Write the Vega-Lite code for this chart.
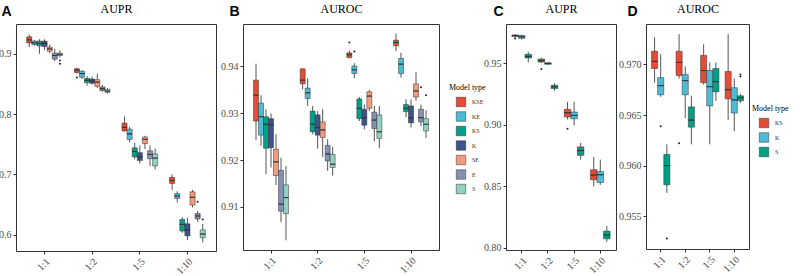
{
  "$schema": "https://vega.github.io/schema/vega-lite/v6.json",
  "background": "white",
  "padding": {"left": -2, "top": 1, "right": 0, "bottom": 0},
  "spacing": -4,
  "datasets": {
    "boxA": [
      {"ratio": "1:1", "model": "KSE", "lo": 0.911, "q1": 0.918, "med": 0.923, "q3": 0.928, "hi": 0.932},
      {"ratio": "1:1", "model": "KE", "lo": 0.913, "q1": 0.915, "med": 0.918, "q3": 0.921, "hi": 0.923},
      {"ratio": "1:1", "model": "KS", "lo": 0.900, "q1": 0.913, "med": 0.917, "q3": 0.921, "hi": 0.924},
      {"ratio": "1:1", "model": "K", "lo": 0.906, "q1": 0.912, "med": 0.917, "q3": 0.921, "hi": 0.924},
      {"ratio": "1:1", "model": "SE", "lo": 0.901, "q1": 0.904, "med": 0.908, "q3": 0.911, "hi": 0.915},
      {"ratio": "1:1", "model": "E", "lo": 0.888, "q1": 0.891, "med": 0.897, "q3": 0.901, "hi": 0.908},
      {"ratio": "1:1", "model": "S", "lo": 0.894, "q1": 0.897, "med": 0.899, "q3": 0.901, "hi": 0.906},
      {"ratio": "1:2", "model": "KSE", "lo": 0.867, "q1": 0.869, "med": 0.873, "q3": 0.875, "hi": 0.877},
      {"ratio": "1:2", "model": "KE", "lo": 0.858, "q1": 0.861, "med": 0.867, "q3": 0.871, "hi": 0.873},
      {"ratio": "1:2", "model": "KS", "lo": 0.847, "q1": 0.852, "med": 0.856, "q3": 0.859, "hi": 0.863},
      {"ratio": "1:2", "model": "K", "lo": 0.849, "q1": 0.851, "med": 0.855, "q3": 0.858, "hi": 0.862},
      {"ratio": "1:2", "model": "SE", "lo": 0.843, "q1": 0.846, "med": 0.853, "q3": 0.857, "hi": 0.867},
      {"ratio": "1:2", "model": "E", "lo": 0.837, "q1": 0.839, "med": 0.842, "q3": 0.845, "hi": 0.848},
      {"ratio": "1:2", "model": "S", "lo": 0.834, "q1": 0.836, "med": 0.838, "q3": 0.841, "hi": 0.843},
      {"ratio": "1:5", "model": "KSE", "lo": 0.771, "q1": 0.772, "med": 0.778, "q3": 0.785, "hi": 0.796},
      {"ratio": "1:5", "model": "KE", "lo": 0.753, "q1": 0.758, "med": 0.767, "q3": 0.775, "hi": 0.779},
      {"ratio": "1:5", "model": "KS", "lo": 0.725, "q1": 0.729, "med": 0.738, "q3": 0.744, "hi": 0.752},
      {"ratio": "1:5", "model": "K", "lo": 0.718, "q1": 0.723, "med": 0.729, "q3": 0.736, "hi": 0.748},
      {"ratio": "1:5", "model": "SE", "lo": 0.742, "q1": 0.751, "med": 0.758, "q3": 0.762, "hi": 0.764},
      {"ratio": "1:5", "model": "E", "lo": 0.714, "q1": 0.726, "med": 0.733, "q3": 0.739, "hi": 0.748},
      {"ratio": "1:5", "model": "S", "lo": 0.708, "q1": 0.714, "med": 0.727, "q3": 0.734, "hi": 0.743},
      {"ratio": "1:10", "model": "KSE", "lo": 0.674, "q1": 0.685, "med": 0.690, "q3": 0.695, "hi": 0.700},
      {"ratio": "1:10", "model": "KE", "lo": 0.653, "q1": 0.660, "med": 0.664, "q3": 0.668, "hi": 0.672},
      {"ratio": "1:10", "model": "KS", "lo": 0.603, "q1": 0.606, "med": 0.617, "q3": 0.625, "hi": 0.629},
      {"ratio": "1:10", "model": "K", "lo": 0.591, "q1": 0.598, "med": 0.608, "q3": 0.618, "hi": 0.628},
      {"ratio": "1:10", "model": "SE", "lo": 0.645, "q1": 0.649, "med": 0.662, "q3": 0.671, "hi": 0.674},
      {"ratio": "1:10", "model": "E", "lo": 0.621, "q1": 0.626, "med": 0.631, "q3": 0.635, "hi": 0.639},
      {"ratio": "1:10", "model": "S", "lo": 0.587, "q1": 0.595, "med": 0.601, "q3": 0.608, "hi": 0.618}
    ],
    "outA": [
      {"ratio": "1:1", "model": "S", "value": 0.8889},
      {"ratio": "1:1", "model": "S", "value": 0.8833},
      {"ratio": "1:2", "model": "KSE", "value": 0.8606},
      {"ratio": "1:10", "model": "E", "value": 0.6545},
      {"ratio": "1:10", "model": "S", "value": 0.625}
    ],
    "boxB": [
      {"ratio": "1:1", "model": "KSE", "lo": 0.9242, "q1": 0.9283, "med": 0.9338, "q3": 0.9370, "hi": 0.9405},
      {"ratio": "1:1", "model": "KE", "lo": 0.9230, "q1": 0.9253, "med": 0.9292, "q3": 0.9321, "hi": 0.9338},
      {"ratio": "1:1", "model": "KS", "lo": 0.9170, "q1": 0.9225, "med": 0.9276, "q3": 0.9292, "hi": 0.9308},
      {"ratio": "1:1", "model": "K", "lo": 0.9184, "q1": 0.9226, "med": 0.9275, "q3": 0.9288, "hi": 0.9299},
      {"ratio": "1:1", "model": "SE", "lo": 0.9147, "q1": 0.9167, "med": 0.9196, "q3": 0.9223, "hi": 0.9255},
      {"ratio": "1:1", "model": "E", "lo": 0.9068, "q1": 0.9091, "med": 0.9106, "q3": 0.9178, "hi": 0.9205},
      {"ratio": "1:1", "model": "S", "lo": 0.9029, "q1": 0.9086, "med": 0.9120, "q3": 0.9147, "hi": 0.9187},
      {"ratio": "1:2", "model": "KSE", "lo": 0.9350, "q1": 0.9362, "med": 0.9370, "q3": 0.9394, "hi": 0.9395},
      {"ratio": "1:2", "model": "KE", "lo": 0.9315, "q1": 0.9331, "med": 0.9343, "q3": 0.9353, "hi": 0.9374},
      {"ratio": "1:2", "model": "KS", "lo": 0.9255, "q1": 0.9260, "med": 0.9276, "q3": 0.9304, "hi": 0.9315},
      {"ratio": "1:2", "model": "K", "lo": 0.9224, "q1": 0.9253, "med": 0.9269, "q3": 0.9296, "hi": 0.9304},
      {"ratio": "1:2", "model": "SE", "lo": 0.9206, "q1": 0.9248, "med": 0.9264, "q3": 0.9281, "hi": 0.9308},
      {"ratio": "1:2", "model": "E", "lo": 0.9177, "q1": 0.9198, "med": 0.9213, "q3": 0.9231, "hi": 0.9244},
      {"ratio": "1:2", "model": "S", "lo": 0.9167, "q1": 0.9184, "med": 0.9191, "q3": 0.9212, "hi": 0.9228},
      {"ratio": "1:5", "model": "KSE", "lo": 0.9416, "q1": 0.9418, "med": 0.9424, "q3": 0.9428, "hi": 0.9433},
      {"ratio": "1:5", "model": "KE", "lo": 0.9374, "q1": 0.9384, "med": 0.9392, "q3": 0.9400, "hi": 0.9406},
      {"ratio": "1:5", "model": "KS", "lo": 0.9283, "q1": 0.9288, "med": 0.9310, "q3": 0.9330, "hi": 0.9334},
      {"ratio": "1:5", "model": "K", "lo": 0.9265, "q1": 0.9274, "med": 0.9290, "q3": 0.9308, "hi": 0.9318},
      {"ratio": "1:5", "model": "SE", "lo": 0.9304, "q1": 0.9310, "med": 0.9336, "q3": 0.9345, "hi": 0.9349},
      {"ratio": "1:5", "model": "E", "lo": 0.9240, "q1": 0.9267, "med": 0.9285, "q3": 0.9302, "hi": 0.9315},
      {"ratio": "1:5", "model": "S", "lo": 0.9225, "q1": 0.9246, "med": 0.9260, "q3": 0.9296, "hi": 0.9315},
      {"ratio": "1:10", "model": "KSE", "lo": 0.9432, "q1": 0.9443, "med": 0.9450, "q3": 0.9455, "hi": 0.9469},
      {"ratio": "1:10", "model": "KE", "lo": 0.9375, "q1": 0.9384, "med": 0.9404, "q3": 0.9416, "hi": 0.9428},
      {"ratio": "1:10", "model": "KS", "lo": 0.9291, "q1": 0.9303, "med": 0.9310, "q3": 0.9318, "hi": 0.9329},
      {"ratio": "1:10", "model": "K", "lo": 0.9269, "q1": 0.9279, "med": 0.9290, "q3": 0.9315, "hi": 0.9329},
      {"ratio": "1:10", "model": "SE", "lo": 0.9326, "q1": 0.9334, "med": 0.9347, "q3": 0.9362, "hi": 0.9387},
      {"ratio": "1:10", "model": "E", "lo": 0.9272, "q1": 0.9281, "med": 0.9290, "q3": 0.9308, "hi": 0.9318},
      {"ratio": "1:10", "model": "S", "lo": 0.9247, "q1": 0.9262, "med": 0.9276, "q3": 0.9288, "hi": 0.9306}
    ],
    "outB": [
      {"ratio": "1:5", "model": "KSE", "value": 0.9450},
      {"ratio": "1:5", "model": "KE", "value": 0.9431},
      {"ratio": "1:10", "model": "E", "value": 0.9355},
      {"ratio": "1:10", "model": "S", "value": 0.9338}
    ],
    "boxC": [
      {"ratio": "1:1", "model": "KS", "lo": 0.9710, "q1": 0.9719, "med": 0.9727, "q3": 0.9732, "hi": 0.9738},
      {"ratio": "1:1", "model": "K", "lo": 0.9694, "q1": 0.9705, "med": 0.9716, "q3": 0.9727, "hi": 0.9735},
      {"ratio": "1:1", "model": "S", "lo": 0.9508, "q1": 0.9544, "med": 0.9557, "q3": 0.9574, "hi": 0.9596},
      {"ratio": "1:2", "model": "KS", "lo": 0.9503, "q1": 0.9511, "med": 0.9522, "q3": 0.9536, "hi": 0.9546},
      {"ratio": "1:2", "model": "K", "lo": 0.9490, "q1": 0.9492, "med": 0.9500, "q3": 0.9505, "hi": 0.9508},
      {"ratio": "1:2", "model": "S", "lo": 0.9276, "q1": 0.9295, "med": 0.9309, "q3": 0.9322, "hi": 0.9339},
      {"ratio": "1:5", "model": "KS", "lo": 0.9044, "q1": 0.9063, "med": 0.9098, "q3": 0.9126, "hi": 0.9186},
      {"ratio": "1:5", "model": "K", "lo": 0.8995, "q1": 0.9049, "med": 0.9076, "q3": 0.9104, "hi": 0.9186},
      {"ratio": "1:5", "model": "S", "lo": 0.8716, "q1": 0.8751, "med": 0.8790, "q3": 0.8820, "hi": 0.8852},
      {"ratio": "1:10", "model": "KS", "lo": 0.8497, "q1": 0.8552, "med": 0.8590, "q3": 0.8634, "hi": 0.8738},
      {"ratio": "1:10", "model": "K", "lo": 0.8511, "q1": 0.8530, "med": 0.8593, "q3": 0.8620, "hi": 0.8716},
      {"ratio": "1:10", "model": "S", "lo": 0.8046, "q1": 0.8071, "med": 0.8101, "q3": 0.8134, "hi": 0.8175}
    ],
    "outC": [
      {"ratio": "1:1", "model": "KS", "value": 0.9702},
      {"ratio": "1:2", "model": "KS", "value": 0.9454},
      {"ratio": "1:5", "model": "KS", "value": 0.8967}
    ],
    "boxD": [
      {"ratio": "1:1", "model": "KS", "lo": 0.9682, "q1": 0.9696, "med": 0.9703, "q3": 0.9713, "hi": 0.9727},
      {"ratio": "1:1", "model": "K", "lo": 0.9668, "q1": 0.9670, "med": 0.9679, "q3": 0.9687, "hi": 0.9710},
      {"ratio": "1:1", "model": "S", "lo": 0.9573, "q1": 0.9581, "med": 0.9600, "q3": 0.9611, "hi": 0.9621},
      {"ratio": "1:2", "model": "KS", "lo": 0.9686, "q1": 0.9689, "med": 0.9702, "q3": 0.9713, "hi": 0.9730},
      {"ratio": "1:2", "model": "K", "lo": 0.9647, "q1": 0.9670, "med": 0.9684, "q3": 0.9690, "hi": 0.9698},
      {"ratio": "1:2", "model": "S", "lo": 0.9621, "q1": 0.9638, "med": 0.9645, "q3": 0.9658, "hi": 0.9669},
      {"ratio": "1:5", "model": "KS", "lo": 0.9680, "q1": 0.9682, "med": 0.9694, "q3": 0.9709, "hi": 0.9720},
      {"ratio": "1:5", "model": "K", "lo": 0.9621, "q1": 0.9659, "med": 0.9678, "q3": 0.9694, "hi": 0.9702},
      {"ratio": "1:5", "model": "S", "lo": 0.9664, "q1": 0.9673, "med": 0.9683, "q3": 0.9696, "hi": 0.9702},
      {"ratio": "1:10", "model": "KS", "lo": 0.9645, "q1": 0.9666, "med": 0.9675, "q3": 0.9693, "hi": 0.9730},
      {"ratio": "1:10", "model": "K", "lo": 0.9634, "q1": 0.9652, "med": 0.9665, "q3": 0.9677, "hi": 0.9686},
      {"ratio": "1:10", "model": "S", "lo": 0.9662, "q1": 0.9664, "med": 0.9667, "q3": 0.9669, "hi": 0.9671}
    ],
    "outD": [
      {"ratio": "1:1", "model": "K", "value": 0.9639},
      {"ratio": "1:1", "model": "S", "value": 0.9528},
      {"ratio": "1:2", "model": "KS", "value": 0.9622},
      {"ratio": "1:10", "model": "S", "value": 0.9690},
      {"ratio": "1:10", "model": "S", "value": 0.9688}
    ]
  },
  "hconcat": [
    {
      "spacing": 3,
      "resolve": {
        "scale": {"x": "independent", "y": "independent", "xOffset": "independent", "fill": "independent"},
        "axis": {"x": "independent", "y": "independent"},
        "legend": {"fill": "independent"}
      },
      "hconcat": [
        {
          "width": 200, "height": 227,
          "resolve": {"axis": {"x": "independent"}},
          "layer": [
            {"data": {"name": "boxA"}, "mark": {"type": "rule", "color": "#555555", "strokeWidth": 1},
             "encoding": {
               "x": {"field": "ratio", "type": "nominal", "scale": {"domain": ["1:1", "1:2", "1:5", "1:10"], "paddingInner": 0.25, "paddingOuter": 0.225}, "axis": {"orient": "bottom", "title": null, "labelAngle": -45, "labelAlign": "right", "labelBaseline": "top", "labelPadding": 2}},
               "xOffset": {"field": "model", "type": "nominal", "scale": {"domain": ["KSE", "KE", "KS", "K", "SE", "E", "S"], "paddingInner": 0, "paddingOuter": 0}},
               "y": {"field": "lo", "type": "quantitative", "title": "A", "scale": {"domain": [0.5729, 0.9493], "nice": false, "zero": false}, "axis": {"values": [0.6, 0.7, 0.8, 0.9], "format": ".1f", "titleAngle": 0, "titleAlign": "left", "titleBaseline": "top", "titleX": -15, "titleY": -20}},
               "y2": {"field": "hi"}}},
            {"data": {"name": "boxA"}, "mark": {"type": "bar", "stroke": "#333333", "strokeWidth": 0.5},
             "encoding": {
               "x": {"field": "ratio", "type": "nominal", "scale": {"domain": ["1:1", "1:2", "1:5", "1:10"], "paddingInner": 0.25, "paddingOuter": 0.225}, "axis": {"orient": "top", "title": "AUPR", "labels": false, "ticks": false, "titlePadding": 9, "titleFont": "Liberation Serif", "titleFontSize": 12, "titleFontWeight": "normal", "titleColor": "#000000"}},
               "xOffset": {"field": "model", "type": "nominal", "scale": {"domain": ["KSE", "KE", "KS", "K", "SE", "E", "S"], "paddingInner": 0, "paddingOuter": 0}},
               "y": {"field": "q1", "type": "quantitative", "title": "A", "scale": {"domain": [0.5729, 0.9493], "nice": false, "zero": false}},
               "y2": {"field": "q3"},
               "fill": {"field": "model", "type": "nominal", "scale": {"domain": ["KSE", "KE", "KS", "K", "SE", "E", "S"], "range": ["#E64B35", "#4DBBD5", "#00A087", "#3C5488", "#F39B7F", "#8491B4", "#91D1C2"]}, "legend": null}}},
            {"data": {"name": "boxA"}, "mark": {"type": "bar", "fillOpacity": 0, "stroke": "#333333", "strokeWidth": 0.8},
             "encoding": {
               "x": {"field": "ratio", "type": "nominal", "scale": {"domain": ["1:1", "1:2", "1:5", "1:10"], "paddingInner": 0.25, "paddingOuter": 0.225}, "axis": null},
               "xOffset": {"field": "model", "type": "nominal", "scale": {"domain": ["KSE", "KE", "KS", "K", "SE", "E", "S"], "paddingInner": 0, "paddingOuter": 0}},
               "y": {"field": "med", "type": "quantitative", "title": "A", "scale": {"domain": [0.5729, 0.9493], "nice": false, "zero": false}},
               "y2": {"field": "med"}}},
            {"data": {"name": "outA"}, "mark": {"type": "circle", "size": 4, "color": "#222222", "opacity": 1},
             "encoding": {
               "x": {"field": "ratio", "type": "nominal", "scale": {"domain": ["1:1", "1:2", "1:5", "1:10"], "paddingInner": 0.25, "paddingOuter": 0.225}, "axis": null},
               "xOffset": {"field": "model", "type": "nominal", "scale": {"domain": ["KSE", "KE", "KS", "K", "SE", "E", "S"], "paddingInner": 0, "paddingOuter": 0}},
               "y": {"field": "value", "type": "quantitative", "title": "A", "scale": {"domain": [0.5729, 0.9493], "nice": false, "zero": false}}}}
          ]
        },
        {
          "width": 196, "height": 226,
          "resolve": {"axis": {"x": "independent"}},
          "layer": [
            {"data": {"name": "boxB"}, "mark": {"type": "rule", "color": "#555555", "strokeWidth": 1},
             "encoding": {
               "x": {"field": "ratio", "type": "nominal", "scale": {"domain": ["1:1", "1:2", "1:5", "1:10"], "paddingInner": 0.25, "paddingOuter": 0.225}, "axis": {"orient": "bottom", "title": null, "labelAngle": -45, "labelAlign": "right", "labelBaseline": "top", "labelPadding": 2}},
               "xOffset": {"field": "model", "type": "nominal", "scale": {"domain": ["KSE", "KE", "KS", "K", "SE", "E", "S"], "paddingInner": 0, "paddingOuter": 0}},
               "y": {"field": "lo", "type": "quantitative", "title": "B", "scale": {"domain": [0.90085, 0.94894], "nice": false, "zero": false}, "axis": {"values": [0.91, 0.92, 0.93, 0.94], "format": ".2f", "titleAngle": 0, "titleAlign": "left", "titleBaseline": "top", "titleX": -14, "titleY": -20}},
               "y2": {"field": "hi"}}},
            {"data": {"name": "boxB"}, "mark": {"type": "bar", "stroke": "#333333", "strokeWidth": 0.5},
             "encoding": {
               "x": {"field": "ratio", "type": "nominal", "scale": {"domain": ["1:1", "1:2", "1:5", "1:10"], "paddingInner": 0.25, "paddingOuter": 0.225}, "axis": {"orient": "top", "title": "AUROC", "labels": false, "ticks": false, "titlePadding": 9, "titleFont": "Liberation Serif", "titleFontSize": 12, "titleFontWeight": "normal", "titleColor": "#000000"}},
               "xOffset": {"field": "model", "type": "nominal", "scale": {"domain": ["KSE", "KE", "KS", "K", "SE", "E", "S"], "paddingInner": 0, "paddingOuter": 0}},
               "y": {"field": "q1", "type": "quantitative", "title": "B", "scale": {"domain": [0.90085, 0.94894], "nice": false, "zero": false}},
               "y2": {"field": "q3"},
               "fill": {"field": "model", "type": "nominal", "scale": {"domain": ["KSE", "KE", "KS", "K", "SE", "E", "S"], "range": ["#E64B35", "#4DBBD5", "#00A087", "#3C5488", "#F39B7F", "#8491B4", "#91D1C2"]},
                 "legend": {"orient": "none", "legendX": 206, "legendY": 60, "title": "Model type", "symbolOffset": 7, "labelOffset": 6, "rowPadding": 2.5, "titlePadding": 5}}}},
            {"data": {"name": "boxB"}, "mark": {"type": "bar", "fillOpacity": 0, "stroke": "#333333", "strokeWidth": 0.8},
             "encoding": {
               "x": {"field": "ratio", "type": "nominal", "scale": {"domain": ["1:1", "1:2", "1:5", "1:10"], "paddingInner": 0.25, "paddingOuter": 0.225}, "axis": null},
               "xOffset": {"field": "model", "type": "nominal", "scale": {"domain": ["KSE", "KE", "KS", "K", "SE", "E", "S"], "paddingInner": 0, "paddingOuter": 0}},
               "y": {"field": "med", "type": "quantitative", "title": "B", "scale": {"domain": [0.90085, 0.94894], "nice": false, "zero": false}},
               "y2": {"field": "med"}}},
            {"data": {"name": "outB"}, "mark": {"type": "circle", "size": 4, "color": "#222222", "opacity": 1},
             "encoding": {
               "x": {"field": "ratio", "type": "nominal", "scale": {"domain": ["1:1", "1:2", "1:5", "1:10"], "paddingInner": 0.25, "paddingOuter": 0.225}, "axis": null},
               "xOffset": {"field": "model", "type": "nominal", "scale": {"domain": ["KSE", "KE", "KS", "K", "SE", "E", "S"], "paddingInner": 0, "paddingOuter": 0}},
               "y": {"field": "value", "type": "quantitative", "title": "B", "scale": {"domain": [0.90085, 0.94894], "nice": false, "zero": false}}}}
          ]
        }
      ]
    },
    {
      "spacing": 1,
      "resolve": {
        "scale": {"x": "independent", "y": "independent", "xOffset": "independent", "fill": "independent"},
        "axis": {"x": "independent", "y": "independent"},
        "legend": {"fill": "independent"}
      },
      "hconcat": [
        {
          "width": 110, "height": 226,
          "resolve": {"axis": {"x": "independent"}},
          "layer": [
            {"data": {"name": "boxC"}, "mark": {"type": "rule", "color": "#555555", "strokeWidth": 1},
             "encoding": {
               "x": {"field": "ratio", "type": "nominal", "scale": {"domain": ["1:1", "1:2", "1:5", "1:10"], "paddingInner": 0.25, "paddingOuter": 0.225}, "axis": {"orient": "bottom", "title": null, "labelAngle": -45, "labelAlign": "right", "labelBaseline": "top", "labelPadding": 2}},
               "xOffset": {"field": "model", "type": "nominal", "scale": {"domain": ["KS", "K", "S"], "paddingInner": 0, "paddingOuter": 0}},
               "y": {"field": "lo", "type": "quantitative", "title": "C", "scale": {"domain": [0.798, 0.9821], "nice": false, "zero": false}, "axis": {"values": [0.8, 0.85, 0.9, 0.95], "format": ".2f", "titleAngle": 0, "titleAlign": "left", "titleBaseline": "top", "titleX": -13, "titleY": -20}},
               "y2": {"field": "hi"}}},
            {"data": {"name": "boxC"}, "mark": {"type": "bar", "stroke": "#333333", "strokeWidth": 0.5},
             "encoding": {
               "x": {"field": "ratio", "type": "nominal", "scale": {"domain": ["1:1", "1:2", "1:5", "1:10"], "paddingInner": 0.25, "paddingOuter": 0.225}, "axis": {"orient": "top", "title": "AUPR", "labels": false, "ticks": false, "titlePadding": 9, "titleFont": "Liberation Serif", "titleFontSize": 12, "titleFontWeight": "normal", "titleColor": "#000000"}},
               "xOffset": {"field": "model", "type": "nominal", "scale": {"domain": ["KS", "K", "S"], "paddingInner": 0, "paddingOuter": 0}},
               "y": {"field": "q1", "type": "quantitative", "title": "C", "scale": {"domain": [0.798, 0.9821], "nice": false, "zero": false}},
               "y2": {"field": "q3"},
               "fill": {"field": "model", "type": "nominal", "scale": {"domain": ["KS", "K", "S"], "range": ["#E64B35", "#4DBBD5", "#00A087"]}, "legend": null}}},
            {"data": {"name": "boxC"}, "mark": {"type": "bar", "fillOpacity": 0, "stroke": "#333333", "strokeWidth": 0.8},
             "encoding": {
               "x": {"field": "ratio", "type": "nominal", "scale": {"domain": ["1:1", "1:2", "1:5", "1:10"], "paddingInner": 0.25, "paddingOuter": 0.225}, "axis": null},
               "xOffset": {"field": "model", "type": "nominal", "scale": {"domain": ["KS", "K", "S"], "paddingInner": 0, "paddingOuter": 0}},
               "y": {"field": "med", "type": "quantitative", "title": "C", "scale": {"domain": [0.798, 0.9821], "nice": false, "zero": false}},
               "y2": {"field": "med"}}},
            {"data": {"name": "outC"}, "mark": {"type": "circle", "size": 4, "color": "#222222", "opacity": 1},
             "encoding": {
               "x": {"field": "ratio", "type": "nominal", "scale": {"domain": ["1:1", "1:2", "1:5", "1:10"], "paddingInner": 0.25, "paddingOuter": 0.225}, "axis": null},
               "xOffset": {"field": "model", "type": "nominal", "scale": {"domain": ["KS", "K", "S"], "paddingInner": 0, "paddingOuter": 0}},
               "y": {"field": "value", "type": "quantitative", "title": "C", "scale": {"domain": [0.798, 0.9821], "nice": false, "zero": false}}}}
          ]
        },
        {
          "width": 103, "height": 225,
          "resolve": {"axis": {"x": "independent"}},
          "layer": [
            {"data": {"name": "boxD"}, "mark": {"type": "rule", "color": "#555555", "strokeWidth": 1},
             "encoding": {
               "x": {"field": "ratio", "type": "nominal", "scale": {"domain": ["1:1", "1:2", "1:5", "1:10"], "paddingInner": 0.25, "paddingOuter": 0.225}, "axis": {"orient": "bottom", "title": null, "labelAngle": -45, "labelAlign": "right", "labelBaseline": "top", "labelPadding": 2}},
               "xOffset": {"field": "model", "type": "nominal", "scale": {"domain": ["KS", "K", "S"], "paddingInner": 0, "paddingOuter": 0}},
               "y": {"field": "lo", "type": "quantitative", "title": "D", "scale": {"domain": [0.95175, 0.974], "nice": false, "zero": false}, "axis": {"values": [0.955, 0.96, 0.965, 0.97], "format": ".3f", "titleAngle": 0, "titleAlign": "left", "titleBaseline": "top", "titleX": -19, "titleY": -20}},
               "y2": {"field": "hi"}}},
            {"data": {"name": "boxD"}, "mark": {"type": "bar", "stroke": "#333333", "strokeWidth": 0.5},
             "encoding": {
               "x": {"field": "ratio", "type": "nominal", "scale": {"domain": ["1:1", "1:2", "1:5", "1:10"], "paddingInner": 0.25, "paddingOuter": 0.225}, "axis": {"orient": "top", "title": "AUROC", "labels": false, "ticks": false, "titlePadding": 9, "titleFont": "Liberation Serif", "titleFontSize": 12, "titleFontWeight": "normal", "titleColor": "#000000"}},
               "xOffset": {"field": "model", "type": "nominal", "scale": {"domain": ["KS", "K", "S"], "paddingInner": 0, "paddingOuter": 0}},
               "y": {"field": "q1", "type": "quantitative", "title": "D", "scale": {"domain": [0.95175, 0.974], "nice": false, "zero": false}},
               "y2": {"field": "q3"},
               "fill": {"field": "model", "type": "nominal", "scale": {"domain": ["KS", "K", "S"], "range": ["#E64B35", "#4DBBD5", "#00A087"]},
                 "legend": {"orient": "none", "legendX": 106, "legendY": 81, "title": "Model type", "symbolOffset": 7, "labelOffset": 6, "rowPadding": 2.5, "titlePadding": 5}}}},
            {"data": {"name": "boxD"}, "mark": {"type": "bar", "fillOpacity": 0, "stroke": "#333333", "strokeWidth": 0.8},
             "encoding": {
               "x": {"field": "ratio", "type": "nominal", "scale": {"domain": ["1:1", "1:2", "1:5", "1:10"], "paddingInner": 0.25, "paddingOuter": 0.225}, "axis": null},
               "xOffset": {"field": "model", "type": "nominal", "scale": {"domain": ["KS", "K", "S"], "paddingInner": 0, "paddingOuter": 0}},
               "y": {"field": "med", "type": "quantitative", "title": "D", "scale": {"domain": [0.95175, 0.974], "nice": false, "zero": false}},
               "y2": {"field": "med"}}},
            {"data": {"name": "outD"}, "mark": {"type": "circle", "size": 4, "color": "#222222", "opacity": 1},
             "encoding": {
               "x": {"field": "ratio", "type": "nominal", "scale": {"domain": ["1:1", "1:2", "1:5", "1:10"], "paddingInner": 0.25, "paddingOuter": 0.225}, "axis": null},
               "xOffset": {"field": "model", "type": "nominal", "scale": {"domain": ["KS", "K", "S"], "paddingInner": 0, "paddingOuter": 0}},
               "y": {"field": "value", "type": "quantitative", "title": "D", "scale": {"domain": [0.95175, 0.974], "nice": false, "zero": false}}}}
          ]
        }
      ]
    }
  ],
  "resolve": {
    "scale": {"x": "independent", "y": "independent", "xOffset": "independent", "fill": "independent"},
    "axis": {"x": "independent", "y": "independent"},
    "legend": {"fill": "independent"}
  },
  "config": {
    "font": "Liberation Serif",
    "view": {"stroke": "#333333", "strokeWidth": 1},
    "axis": {
      "grid": false, "domain": false, "tickColor": "#333333", "tickSize": 3, "tickWidth": 1,
      "labelFont": "Liberation Serif", "labelFontSize": 10, "labelColor": "#4D4D4D", "labelPadding": 2,
      "titleFont": "Liberation Sans", "titleFontSize": 14, "titleFontWeight": "bold", "titleColor": "#000000"
    },
    "legend": {
      "titleFont": "Liberation Serif", "titleFontSize": 8, "titleFontWeight": "normal", "titleColor": "#000000",
      "labelFont": "Liberation Serif", "labelFontSize": 6, "labelColor": "#333333",
      "symbolType": "square", "symbolSize": 90, "symbolStrokeColor": "#333333", "symbolStrokeWidth": 0.5, "symbolOpacity": 1
    }
  }
}
